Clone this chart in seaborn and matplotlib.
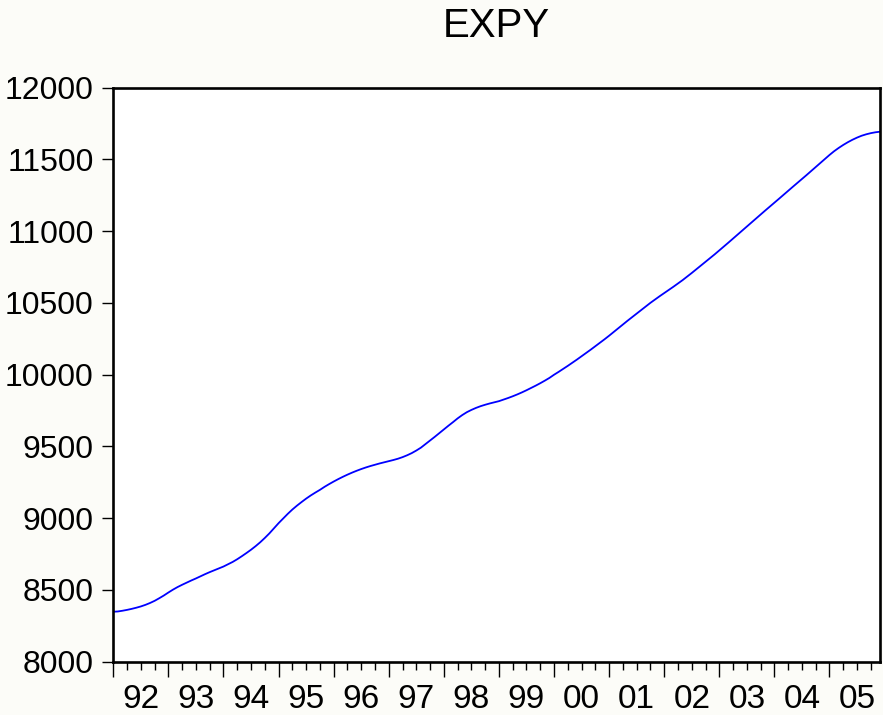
import matplotlib
matplotlib.use("Agg")
import matplotlib.pyplot as plt
import matplotlib.transforms as mtransforms
import numpy as np
import pandas as pd
import seaborn as sns

# ---- data (monthly, 1992M01 - 2005M12) ----
years = ["92", "93", "94", "95", "96", "97", "98", "99", "00", "01", "02", "03", "04", "05"]
expy_1992 = [8348, 8350, 8355, 8361, 8368, 8376, 8385, 8396, 8409, 8424, 8442, 8461]
expy_1993 = [8482, 8502, 8520, 8536, 8551, 8566, 8580, 8595, 8610, 8624, 8637, 8650]
expy_1994 = [8663, 8679, 8695, 8714, 8735, 8757, 8780, 8805, 8832, 8862, 8894, 8930]
expy_1995 = [8965, 8998, 9030, 9060, 9087, 9112, 9136, 9158, 9178, 9197, 9218, 9237]
expy_1996 = [9255, 9272, 9288, 9303, 9317, 9330, 9342, 9353, 9363, 9372, 9381, 9389]
expy_1997 = [9397, 9405, 9414, 9425, 9438, 9453, 9471, 9491, 9516, 9541, 9566, 9592]
expy_1998 = [9618, 9644, 9669, 9695, 9718, 9738, 9754, 9768, 9780, 9790, 9799, 9807]
expy_1999 = [9815, 9826, 9837, 9849, 9862, 9876, 9891, 9907, 9923, 9940, 9958, 9977]
expy_2000 = [9999, 10019, 10040, 10061, 10083, 10105, 10128, 10151, 10174, 10198, 10222, 10246]
expy_2001 = [10271, 10297, 10323, 10349, 10375, 10400, 10425, 10450, 10475, 10500, 10523, 10546]
expy_2002 = [10568, 10590, 10612, 10635, 10658, 10683, 10708, 10734, 10760, 10786, 10812, 10838]
expy_2003 = [10865, 10892, 10920, 10948, 10976, 11004, 11032, 11060, 11088, 11115, 11143, 11170]
expy_2004 = [11198, 11225, 11253, 11280, 11308, 11335, 11363, 11390, 11418, 11446, 11474, 11502]
expy_2005 = [11530, 11556, 11579, 11600, 11619, 11636, 11651, 11664, 11674, 11682, 11688, 11692]
y_ticks = [8000, 8500, 9000, 9500, 10000, 10500, 11000, 11500, 12000]

expy = (expy_1992 + expy_1993 + expy_1994 + expy_1995 + expy_1996 + expy_1997 +
        expy_1998 + expy_1999 + expy_2000 + expy_2001 + expy_2002 + expy_2003 +
        expy_2004 + expy_2005)
df = pd.DataFrame({"t": np.arange(len(expy)), "EXPY": expy})

sns.set_style("white")
plt.rcParams["font.family"] = ["Liberation Sans", "DejaVu Sans"]
plt.rcParams["text.color"] = "black"
plt.rcParams["xtick.color"] = "black"
plt.rcParams["ytick.color"] = "black"

W, H = 883, 715
fig = plt.figure(figsize=(W / 100, H / 100), dpi=100)
bg = "#fcfcf8"
fig.patch.set_facecolor(bg)
left, right, top, bottom = 113.3, 880.0, 87.5, 661.7
ax = fig.add_axes([left / W, (H - bottom) / H, (right - left) / W, (bottom - top) / H])
ax.set_facecolor("white")

sns.lineplot(data=df, x="t", y="EXPY", ax=ax, color="#0000ff", linewidth=1.3)

ax.set_xlim(0, len(expy) - 1)
ax.set_ylim(8000, 12000)
ax.set_yticks(y_ticks)
ax.set_yticklabels([str(v) for v in y_ticks], fontsize=23, color="black")
ax.set_xlabel("")
ax.set_ylabel("")

# x ticks: long at year boundaries, short at quarters
ax.set_xticks([12 * i for i in range(len(years))])
ax.set_xticklabels([""] * len(years))
ax.set_xticks([q for q in range(0, len(expy), 3) if q % 12 != 0], minor=True)
ax.tick_params(axis="x", which="major", direction="out", length=11, width=1.0, color="black", bottom=True)
ax.tick_params(axis="x", which="minor", direction="out", length=6, width=1.0, color="black", bottom=True)
ax.tick_params(axis="y", which="major", direction="out", length=8, width=1.0, color="black", pad=6,
               left=True, labelcolor="black")

trans = mtransforms.blended_transform_factory(ax.transData, ax.transAxes)
for i, lab in enumerate(years):
    ax.text(12 * i + 6, -0.0800, lab, transform=trans, ha="center", va="baseline",
            fontsize=24, color="black")

for s in ax.spines.values():
    s.set_visible(True)
    s.set_color("black")
    s.set_linewidth(1.9)

fig.text((left + right) / 2 / W, 1 - 37 / H, "EXPY", ha="center", va="baseline",
         fontsize=29, color="black")

fig.savefig("out.png", dpi=100, facecolor=bg)
